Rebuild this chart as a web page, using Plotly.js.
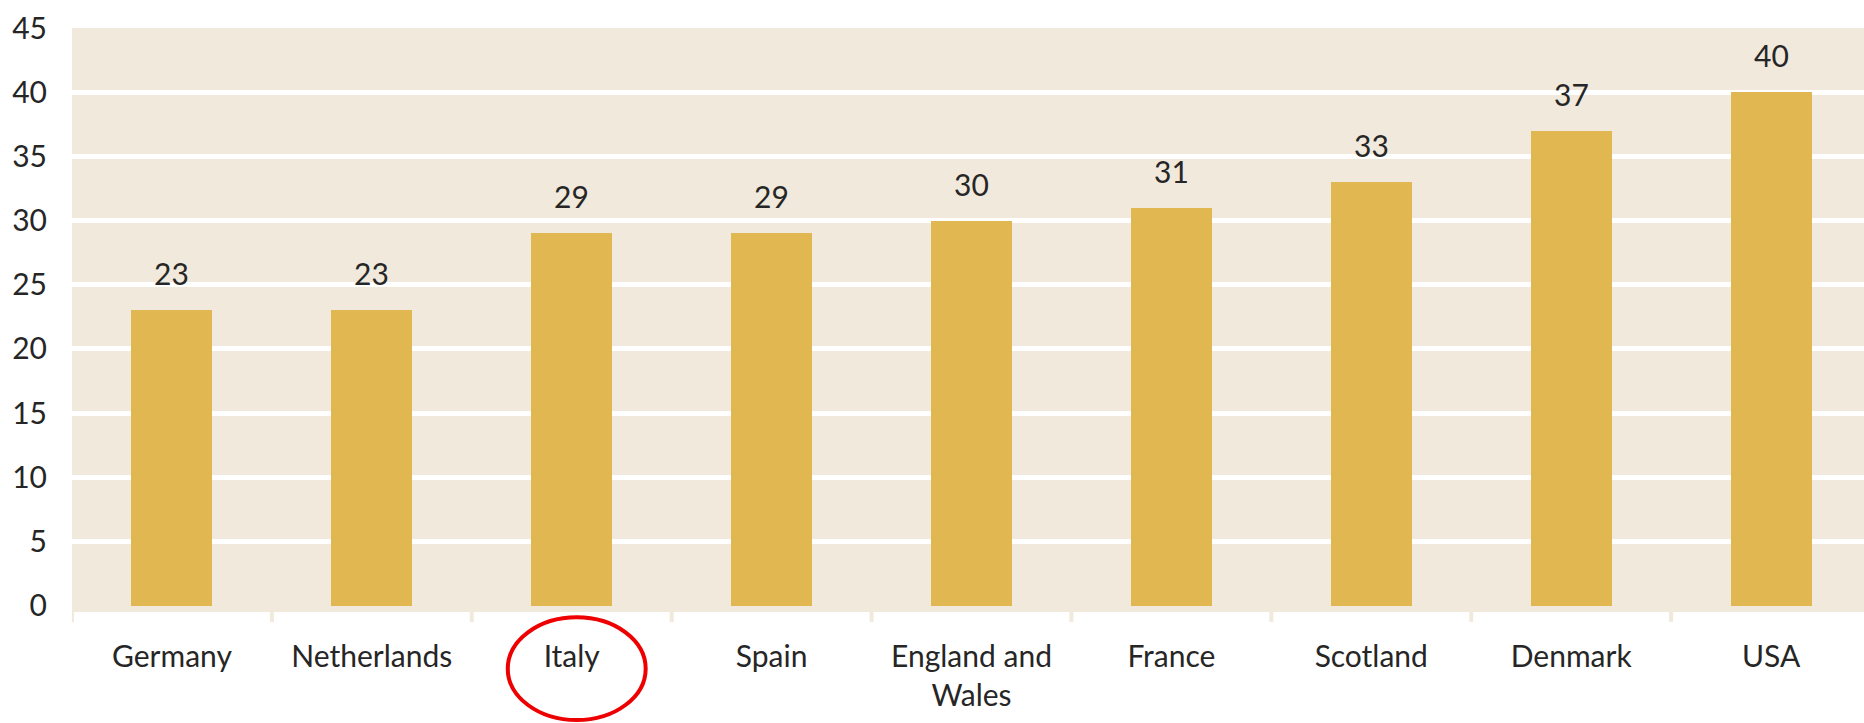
<!DOCTYPE html>
<html>
<head>
<meta charset="utf-8">
<script src="https://cdn.plot.ly/plotly-3.0.1.min.js"></script>
<style>
  html, body { margin: 0; padding: 0; background: #ffffff; overflow: hidden; }
  #chart { width: 1864px; height: 723px; }
</style>
</head>
<body>
<div id="chart"></div>
<script>
const categories = ["Germany", "Netherlands", "Italy", "Spain", "England and<br>Wales", "France", "Scotland", "Denmark", "USA"];
const values = [23, 23, 29, 29, 30, 31, 33, 37, 40];
const yTickValues = [0, 5, 10, 15, 20, 25, 30, 35, 40, 45];
const highlighted = "Italy";

const FONT = "Lato, 'Liberation Sans', sans-serif";
const TEXT = "#262626";
const BAR = "#E1B752";
const BG = "#F1E9DB";

const xIdx = categories.map((c, i) => i);

const trace = {
  type: "bar",
  x: xIdx,
  y: values,
  width: 0.405,
  marker: { color: BAR, line: { width: 0 } },
  hoverinfo: "x+y"
};

const valueLabels = values.map((v, i) => ({
  x: i, y: v, xref: "x", yref: "y",
  text: String(v), showarrow: false,
  yanchor: "middle", yshift: 37,
  font: { family: FONT, size: 30, color: TEXT }
}));

const hi = categories.indexOf(highlighted);

const layout = {
  width: 1864, height: 723,
  margin: { l: 72, r: 0, t: 28, b: 111, pad: 0 },
  paper_bgcolor: "#ffffff",
  plot_bgcolor: BG,
  showlegend: false,
  bargap: 0,
  xaxis: {
    type: "linear",
    range: [-0.5, 8.465],
    tickmode: "array",
    tickvals: xIdx,
    ticktext: categories,
    showgrid: false,
    zeroline: false,
    showline: false,
    ticks: "",
    tickfont: { family: FONT, size: 30, color: TEXT },
    ticklabelstandoff: 24
  },
  yaxis: {
    range: [-0.49, 45],
    tickmode: "array",
    tickvals: yTickValues,
    showgrid: true,
    gridcolor: "#ffffff",
    gridwidth: 5,
    zeroline: true,
    zerolinecolor: BG,
    zerolinewidth: 6,
    showline: false,
    ticks: "",
    tickfont: { family: FONT, size: 30, color: TEXT },
    ticklabelstandoff: 24
  },
  annotations: valueLabels,
  shapes: [
    // category boundary ticks under the axis
    ...categories.map((c, i) => ({
      type: "line", xref: "x", yref: "paper",
      x0: i - 0.5, x1: i - 0.5, y0: 0.0108, y1: -0.017,
      line: { color: BG, width: 4 }, layer: "above"
    })),
    {
      type: "circle", xref: "x", yref: "paper",
      x0: hi - 0.32, x1: hi + 0.37,
      y0: -0.009, y1: -0.185,
      line: { color: "#EE0000", width: 4 },
      fillcolor: "rgba(0,0,0,0)", layer: "above"
    }
  ]
};

Plotly.newPlot("chart", [trace], layout, { displayModeBar: false, staticPlot: true });
</script>
</body>
</html>
